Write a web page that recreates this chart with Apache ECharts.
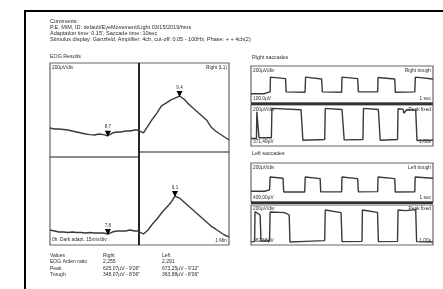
<!DOCTYPE html>
<html>
<head>
<meta charset="utf-8">
<script src="https://cdn.jsdelivr.net/npm/echarts@6/dist/echarts.min.js"></script>
<style>
html, body { margin: 0; padding: 0; background: #fff; }
#chart { width: 443px; height: 289px; }
</style>
</head>
<body>
<div id="chart"></div>
<script>
// header text
var headerLines = [
    'Comments:',
    'P.E. M/M, ID: default/EyeMovement/Light 03/15/2019/hms',
    'Adaptation time: 0.15\', Saccade time: 10sec',
    'Stimulus display: Ganzfeld, Amplifier: 4ch, cut-off: 0.05 - 100Hz, Phase: + + 4ch(2)'
];

// EOG results, one value per minute (uV)
var rightDark  = [247, 238, 238, 234, 230, 221, 213, 204, 196, 190, 187, 196, 190, 181, 204, 213, 213, 221, 221, 230, 230];
var rightLight = [189, 171, 234, 297, 351, 414, 440, 467, 485, 503, 476, 431, 396, 360, 324, 288, 225, 189, 162, 135, 108];
var leftDark   = [136, 127, 118, 118, 114, 118, 114, 114, 109, 114, 109, 109, 109, 100, 118, 127, 127, 127, 136, 127, 127];
var leftLight  = [112, 95, 129, 181, 224, 275, 318, 361, 421, 404, 370, 335, 301, 267, 232, 198, 163, 138, 112, 86, 69];

// saccade recordings [sec, uV]
var rightSacUp = [[0, -50], [0.7, -50], [0.75, -40], [1.05, -40], [1.07, 40], [1.9, 32], [1.93, -40], [2.97, -42], [3.0, 40], [3.88, 30], [3.92, -40], [4.98, -42], [5.0, 40], [5.86, 32], [5.9, -40], [6.96, -40], [6.98, 38], [7.9, 30], [7.93, -42], [9.0, -40], [9.03, 40], [10, 30]];
var rightSacLo = [[0, -190], [0.3, -190], [0.32, 200], [0.42, 200], [0.44, -180], [1.12, -180], [1.15, 250], [2.75, 230], [2.85, -215], [4.05, -205], [4.08, 250], [5.0, 235], [5.12, -210], [6.15, -205], [6.18, 250], [7.0, 235], [7.1, -215], [8.05, -205], [8.08, 245], [8.35, 240], [8.4, 180], [8.55, 230], [9.05, 225], [9.12, -220], [10, -215]];
var leftSacUp  = [[0, -45], [0.75, -45], [0.8, -38], [1.02, -38], [1.05, 28], [1.76, 22], [1.8, -49], [2.95, -49], [2.98, 28], [3.8, 20], [3.83, -48], [4.98, -48], [5.0, 28], [5.86, 20], [5.9, -48], [6.96, -47], [6.98, 28], [7.9, 20], [7.93, -49], [9.0, -48], [9.02, 28], [10, 22]];
var leftSacLo  = [[0, -250], [0.2, -250], [0.22, 200], [0.5, 150], [0.55, -240], [1.02, -240], [1.05, 195], [1.85, 185], [2.1, 150], [2.14, -255], [3.0, -245], [4.05, -235], [4.08, 225], [4.95, 185], [5.0, -250], [6.1, -245], [6.12, 225], [6.95, 190], [7.0, -250], [8.05, -245], [8.08, 225], [8.5, 215], [8.55, 235], [9.05, 230], [9.1, -250], [10, -255]];

// marker labels
var markLabels = ['8,7', '9,4', '7,8', '9,1'];

// results table
var tableRows = [
    ['Values', 'Right', 'Left'],
    ['EOG Arden ratio', '2,255', '2,291'],
    ['Peak', '625,07\u00b5V - 9\'26"', '673,25\u00b5V - 9\'12"'],
    ['Trough', '348,07\u00b5V - 8\'06"', '363,88\u00b5V - 8\'06"']
];

var chart = echarts.init(document.getElementById('chart'));
var FONT = 'Liberation Sans';
var ink = '#2a2a2a';

function txt(x, y, s, size, align) {
    return {
        type: 'text', x: x, y: y, silent: true,
        style: {text: s, fontSize: size || 5, fontFamily: FONT, fill: ink,
                align: align || 'left', verticalAlign: 'top'}
    };
}

function withIndex(arr) {
    return arr.map(function (v, i) { return [i, v]; });
}

function trace(idx, data, minIdx, label) {
    var s = {
        type: 'line', xAxisIndex: idx, yAxisIndex: idx, data: data,
        symbol: 'none', animation: false, silent: true,
        lineStyle: {color: '#3a3a3a', width: 1.4}
    };
    if (minIdx != null) {
        s.markPoint = {
            symbol: 'triangle', symbolRotate: 180, symbolSize: [6, 6], symbolOffset: [0, -2],
            itemStyle: {color: '#000'},
            label: {show: true, position: 'top', distance: 1, fontSize: 4.5, fontFamily: FONT, color: ink,
                    formatter: function (p) { return p.name; }},
            data: [{name: label, coord: data[minIdx]}]
        };
    }
    return s;
}

function argMin(a) { var k = 0; for (var i = 1; i < a.length; i++) if (a[i] < a[k]) k = i; return k; }
function argMax(a) { var k = 0; for (var i = 1; i < a.length; i++) if (a[i] > a[k]) k = i; return k; }

var grids = [
    {left: 50, top: 63, width: 89, height: 94},
    {left: 139, top: 63, width: 90, height: 89},
    {left: 50, top: 157, width: 89, height: 88},
    {left: 139, top: 152, width: 90, height: 93},
    {left: 251, top: 66, width: 182, height: 37},
    {left: 251, top: 105, width: 182, height: 41},
    {left: 251, top: 163, width: 182, height: 39},
    {left: 251, top: 205, width: 182, height: 40}
];
grids.forEach(function (g) { g.show = true; g.borderColor = '#666'; g.borderWidth = 1.2; g.containLabel = false; });

var yRanges = [[0, 800], [0, 800], [0, 800], [0, 800], [-100, 100], [-300, 300], [-100, 100], [-300, 300]];

var xAxes = [], yAxes = [];
for (var i = 0; i < grids.length; i++) {
    xAxes.push({type: 'value', gridIndex: i, show: false, min: 0, max: i < 4 ? 20 : 10});
    yAxes.push({type: 'value', gridIndex: i, show: false, min: yRanges[i][0], max: yRanges[i][1]});
}

var series = [
    trace(0, withIndex(rightDark), argMin(rightDark), markLabels[0]),
    trace(1, withIndex(rightLight), argMax(rightLight), markLabels[1]),
    trace(2, withIndex(leftDark), argMin(leftDark), markLabels[2]),
    trace(3, withIndex(leftLight), argMax(leftLight), markLabels[3]),
    trace(4, rightSacUp),
    trace(5, rightSacLo),
    trace(6, leftSacUp),
    trace(7, leftSacLo)
];

var graphics = [
    {type: 'polyline', silent: true, shape: {points: [[25, 289], [25, 11], [443, 11]]},
     style: {stroke: '#000', lineWidth: 2, fill: null}},
    {type: 'line', silent: true, shape: {x1: 139, y1: 63, x2: 139, y2: 245}, style: {stroke: '#111', lineWidth: 1.6}},
    {type: 'rect', silent: true, shape: {x: 251, y: 102.5, width: 182, height: 2.5}, style: {fill: '#333'}},
    {type: 'rect', silent: true, shape: {x: 251, y: 201.5, width: 182, height: 2.5}, style: {fill: '#333'}}
];

headerLines.forEach(function (s, k) {
    graphics.push(txt(50, 18 + k * 6.2, s, 5.5));
});

graphics.push(txt(50, 54, 'EOG Results', 5.3));
graphics.push(txt(252, 55, 'Right saccades', 5.3));
graphics.push(txt(252, 151, 'Left saccades', 5.3));

// quadrant labels
graphics.push(txt(52, 65, '200\u00b5V/div', 4.8));
graphics.push(txt(227, 65, 'Right (L1)', 4.8, 'right'));
graphics.push(txt(52, 237, '0h. Dark adapt. 15min/div', 4.8));
graphics.push(txt(227, 238, '1 Min', 4.8, 'right'));

// saccade panel labels
graphics.push(txt(253, 68, '200\u00b5V/div', 4.8));
graphics.push(txt(431, 68, 'Right trough', 4.8, 'right'));
graphics.push(txt(253, 96, '100,0\u00b5V', 4.8));
graphics.push(txt(431, 96, '1 sec', 4.8, 'right'));
graphics.push(txt(253, 107, '200\u00b5V/div', 4.8));
graphics.push(txt(431, 107, 'Peak fixed', 4.8, 'right'));
graphics.push(txt(253, 139, '371,49\u00b5V', 4.8));
graphics.push(txt(431, 139, '1,00s', 4.8, 'right'));

graphics.push(txt(253, 165, '200\u00b5V/div', 4.8));
graphics.push(txt(431, 165, 'Left trough', 4.8, 'right'));
graphics.push(txt(253, 195, '409,00\u00b5V', 4.8));
graphics.push(txt(431, 195, '1 sec', 4.8, 'right'));
graphics.push(txt(253, 206, '200\u00b5V/div', 4.8));
graphics.push(txt(431, 206, 'Peak fixed', 4.8, 'right'));
graphics.push(txt(253, 238, '362,58\u00b5V', 4.8));
graphics.push(txt(431, 238, '1,00s', 4.8, 'right'));

// table
var colX = [50, 103, 162];
tableRows.forEach(function (row, r) {
    row.forEach(function (cell, c) {
        graphics.push(txt(colX[c], 253 + r * 6.5, cell, 5));
    });
});

chart.setOption({
    backgroundColor: '#fff',
    animation: false,
    grid: grids,
    xAxis: xAxes,
    yAxis: yAxes,
    series: series,
    graphic: graphics
});
</script>
</body>
</html>
